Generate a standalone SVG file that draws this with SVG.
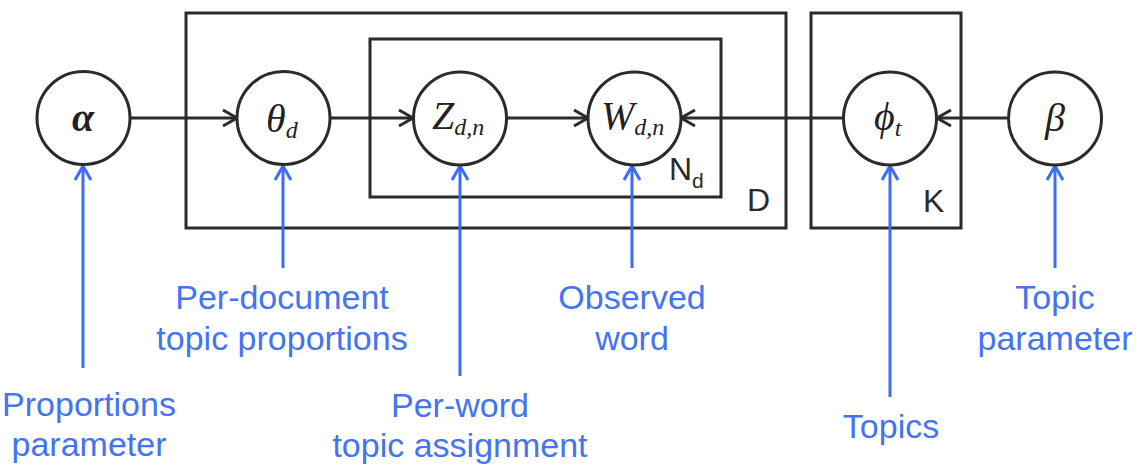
<svg xmlns="http://www.w3.org/2000/svg" width="1147" height="468" viewBox="0 0 1147 468">
<defs>
<style>
.plate{fill:none;stroke:#2b2b2b;stroke-width:3}
.node{fill:#fff;stroke:#2b2b2b;stroke-width:3}
.edge{stroke:#2b2b2b;stroke-width:3;fill:none}
.blue{stroke:#3a6cf4;stroke-width:3;fill:none}
.math{font-family:"Liberation Serif","DejaVu Serif",serif;font-style:italic;fill:#222;font-size:40px}
.sub{font-size:24px}
.plabel{font-family:"Liberation Sans",Arial,sans-serif;fill:#2b2b2b;font-size:32px}
.lbl{font-family:"Liberation Sans",Arial,sans-serif;fill:#4474ee;font-size:34px;text-anchor:middle}
</style>
<marker id="ah" markerUnits="userSpaceOnUse" markerWidth="18" markerHeight="20" refX="15" refY="9" orient="auto" overflow="visible">
<path d="M1,1 L15,9 L1,17" fill="none" stroke="#2b2b2b" stroke-width="3"/>
</marker>
<marker id="bh" markerUnits="userSpaceOnUse" markerWidth="18" markerHeight="20" refX="15" refY="9" orient="auto" overflow="visible">
<path d="M1,1 L15,9 L1,17" fill="none" stroke="#3a6cf4" stroke-width="3"/>
</marker>
</defs>
<rect width="1147" height="468" fill="#fff"/>
<g id="plates">
<rect id="plate-D" class="plate" x="186" y="13" width="600" height="215"/>
<rect id="plate-N" class="plate" x="370" y="39" width="351" height="158"/>
<rect id="plate-K" class="plate" x="811" y="13" width="150" height="215"/>
<text class="plabel" x="669" y="180">N<tspan font-size="21" dy="8">d</tspan></text>
<text class="plabel" x="747" y="211">D</text>
<text class="plabel" x="923" y="212">K</text>
</g>
<g id="connectors">
<line class="edge" x1="130" y1="118" x2="237" y2="118" marker-end="url(#ah)"/>
<line class="edge" x1="330" y1="118" x2="413" y2="118" marker-end="url(#ah)"/>
<line class="edge" x1="507" y1="118" x2="588" y2="118" marker-end="url(#ah)"/>
<line class="edge" x1="843" y1="118" x2="681" y2="118" marker-end="url(#ah)"/>
<line class="edge" x1="1008" y1="118" x2="937" y2="118" marker-end="url(#ah)"/>
<line class="blue" x1="83" y1="368" x2="83" y2="166" marker-end="url(#bh)"/>
<line class="blue" x1="283" y1="268" x2="283" y2="166" marker-end="url(#bh)"/>
<line class="blue" x1="460" y1="376" x2="460" y2="166" marker-end="url(#bh)"/>
<line class="blue" x1="632" y1="268" x2="632" y2="166" marker-end="url(#bh)"/>
<line class="blue" x1="890" y1="397" x2="890" y2="166" marker-end="url(#bh)"/>
<line class="blue" x1="1055" y1="268" x2="1055" y2="166" marker-end="url(#bh)"/>
</g>
<g id="node-alpha">
<circle class="node" cx="83.5" cy="118" r="46.5"/>
<text class="math" x="83" y="131" text-anchor="middle" font-weight="bold">α</text>
</g>
<g id="node-theta">
<circle class="node" cx="283.5" cy="118" r="46.5"/>
<text class="math" x="266" y="132">θ<tspan class="sub" dy="6">d</tspan></text>
</g>
<g id="node-z">
<circle class="node" cx="460" cy="118.5" r="46.5"/>
<text class="math" x="432" y="129">Z<tspan class="sub" dy="6">d,n</tspan></text>
</g>
<g id="node-w">
<circle class="node" cx="634.5" cy="118.5" r="46.5"/>
<text class="math" x="601" y="129">W<tspan class="sub" dy="6">d,n</tspan></text>
</g>
<g id="node-phi">
<circle class="node" cx="890" cy="118.5" r="46.5"/>
<text class="math" x="874" y="130">ϕ<tspan class="sub" dy="6">t</tspan></text>
</g>
<g id="node-beta">
<circle class="node" cx="1055" cy="118.5" r="46.5"/>
<text class="math" x="1055" y="131" text-anchor="middle">β</text>
</g>
<g id="labels">
<text class="lbl" x="282" y="309">Per-document</text>
<text class="lbl" x="282" y="350">topic proportions</text>
<text class="lbl" x="632" y="309">Observed</text>
<text class="lbl" x="632" y="350">word</text>
<text class="lbl" x="1055" y="309">Topic</text>
<text class="lbl" x="1055" y="350">parameter</text>
<text class="lbl" x="89" y="416">Proportions</text>
<text class="lbl" x="89" y="456">parameter</text>
<text class="lbl" x="460" y="417">Per-word</text>
<text class="lbl" x="460" y="457">topic assignment</text>
<text class="lbl" x="891" y="438">Topics</text>
</g>
</svg>
